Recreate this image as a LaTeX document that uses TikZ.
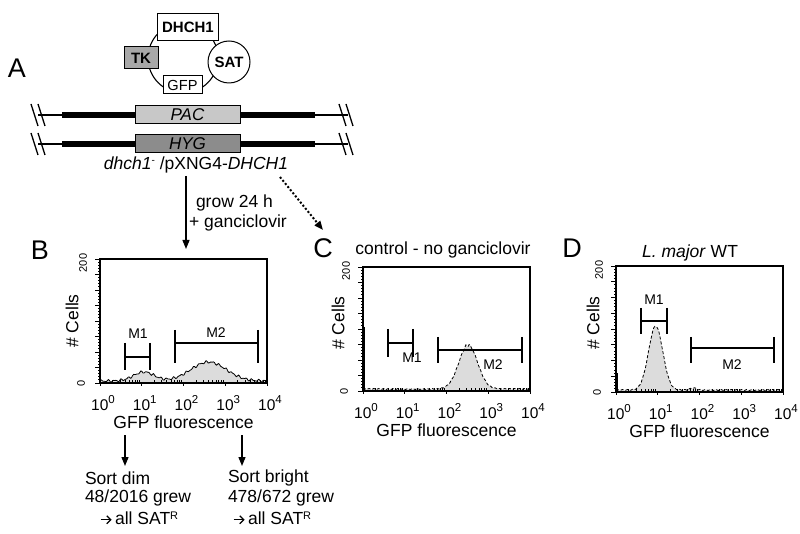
\documentclass[tikz,border=0pt]{standalone}
\usepackage{fontspec}
\setmainfont{Liberation Sans}
\newfontfamily\dvfont{DejaVu Sans}
\usetikzlibrary{arrows.meta}
\newcommand\fs[1]{\fontsize{#1}{#1}\selectfont}
\definecolor{tkgray}{HTML}{A8A8A8}
\definecolor{pacgray}{HTML}{C8C8C8}
\definecolor{hyggray}{HTML}{8C8C8C}
\definecolor{histfill}{HTML}{DCDCDC}
\newcommand\facsframe[4]{%
  \draw[line width=1.1pt] (#1,#2) rectangle (#3,#4);
  \foreach \k in {0,...,40}{%
    \pgfmathsetmacro\tl{mod(\k,5)==0?5:2.5}
    \draw[line width=0.9pt] (#1,{#4-(#4-#2)*\k/40}) -- ++(-\tl,0);}
  \foreach \d in {0,1,2,3}{\foreach \m in {2,...,9}{%
    \draw[line width=0.8pt] ({#1+(#3-#1)/4*(\d+log10(\m))},#4) -- ++(0,-3);}}
  \foreach \d in {0,...,4}{%
    \draw[line width=1pt] ({#1+(#3-#1)/4*\d},#4) -- ++(0,3);
    \node[font=\fs{15.5}] at ({#1+(#3-#1)/4*\d+3},{#4+20}) {10\raisebox{6.5pt}{\fs{11.5}\d}};}
  \node[font=\fs{11},rotate=90] at ({#1-17},{#2+4}) {200};
  \node[font=\fs{11},rotate=90] at ({#1-19},#4) {0};
  \node[font=\fs{17.5}] at ({(#1+#3)/2},{#4+39}) {GFP fluorescence};
}
\newcommand\rarr{\begin{tikzpicture}[baseline=-4.5pt,x=1pt,y=1pt]\draw[line width=1.2pt,-{Straight Barb[length=4pt,width=8pt]}] (0,0) -- (11,0);\end{tikzpicture}\,}
\begin{document}
\begin{tikzpicture}[x=1pt,y=-1pt,
  every node/.style={inner sep=0pt,outer sep=0pt},
  lbl/.style={font=\fs{17.5}},
  panellbl/.style={font=\fs{27}},
  mlbl/.style={font=\fs{14}},
  gene/.style={draw,line width=1pt,font=\fs{15}\bfseries},
  chrom/.style={draw,line width=1pt,font=\fs{17}\itshape,minimum width=105,minimum height=18},
  thinline/.style={line width=1.1pt},
  thickline/.style={line width=6pt},
  brk/.style={line width=1.3pt},
  bracket/.style={line width=1.6pt},
  histline/.style={line width=0.8pt},
  arr/.style={line width=1.3pt,-{Triangle[length=9pt,width=7pt]}},
  darr/.style={line width=2pt,dash pattern=on 2pt off 2pt,-{Triangle[length=9pt,width=7pt]}},
  declare function={
    hb(\u)=2+9*exp(max(-9,-(\u-1.05)*(\u-1.05)/0.1225))+19*exp(max(-9,-(\u-2.6)*(\u-2.6)/0.36))+0.9*sin(2300*\u)+0.6*sin(3700*\u+40);
    hc(\u)=2+0.5*sin(3100*\u)+44*exp(max(-9,-(\u-2.52)*(\u-2.52)/0.1))+1.5*sin(3700*\u)*exp(max(-9,-(\u-2.52)*(\u-2.52)/0.01));
    hd(\u)=2+0.5*sin(2900*\u)+64*exp(max(-9,-(\u-0.95)*(\u-0.95)/0.0576))+2*exp(max(-9,-(\u-1.85)*(\u-1.85)/0.01));
  }]
\useasboundingbox (0,0) rectangle (800,534);

% ---------- Panel A ----------
\node[panellbl] (labA) at (17,68) {A};
\draw[line width=1.1pt] (183,58) circle (35);
\node[gene,minimum width=61,minimum height=27,fill=white] (dhch) at (188,27) {DHCH1};
\node[gene,minimum width=34,minimum height=22,fill=tkgray] (tk) at (141,58) {TK};
\node[gene,circle,minimum size=42,fill=white] (sat) at (229,62) {SAT};
\node[draw,line width=1pt,minimum width=39,minimum height=18,fill=white,font=\fs{14.6}] (gfp) at (182.5,85) {GFP};

% chromosome lines
\foreach \yy/\nm/\col/\txt in {115/pac/pacgray/PAC,144/hyg/hyggray/HYG}{
  \draw[thinline] (38,\yy) -- (348,\yy);
  \draw[thickline] (62,\yy) -- (135,\yy);
  \draw[thickline] (240,\yy) -- (315,\yy);
  \node[chrom,fill=\col] (\nm) at (187.5,\yy) {\txt};
  \draw[brk] (31,{\yy-11}) -- (38,{\yy+11});
  \draw[brk] (38,{\yy-11}) -- (45,{\yy+11});
  \draw[brk] (339,{\yy-11}) -- (346,{\yy+11});
  \draw[brk] (346,{\yy-11}) -- (353,{\yy+11});
}
\node[lbl] (geno) at (196,165) {\textit{dhch1}\raisebox{6pt}{\fs{10}-}\ /pXNG4-\textit{DHCH1}};

\coordinate (a1s) at (186,176);
\coordinate (a1e) at (186,249);
\draw[arr] (a1s) -- (a1e);
\node[lbl,anchor=west] (grow) at (196,203) {grow 24 h};
\node[lbl,anchor=west] (ganc) at (189,223) {+ ganciclovir};
\coordinate (a2s) at (280,177);
\coordinate (a2e) at (323,230);
\draw[darr] (a2s) -- (a2e);

% ---------- Panel B ----------
\node[panellbl] (labB) at (40,250) {B};
\fill[histfill] (100,383) -- plot[domain=0:4,samples=160] ({100+41.75*\x},{383-hb(\x)}) -- (267,383) -- cycle;
\draw[histline] plot[domain=0:4,samples=160] ({100+41.75*\x},{383-hb(\x)});
\draw[line width=2pt] (100,377) -- (100,383);
\facsframe{100}{259}{267}{383}
\node[lbl,rotate=90] (cellsB) at (72,321) {\# Cells};
\draw[bracket] (125,357) -- (150,357);
\draw[bracket] (125,343) -- (125,370);
\draw[bracket] (150,343) -- (150,370);
\node[mlbl] (m1b) at (138,334) {M1};
\draw[bracket] (175,343) -- (258,343);
\draw[bracket] (175,330) -- (175,363);
\draw[bracket] (258,330) -- (258,363);
\node[mlbl] (m2b) at (216,333) {M2};

\coordinate (b1s) at (125,435);
\coordinate (b1e) at (125,466);
\draw[arr] (b1s) -- (b1e);
\coordinate (b2s) at (242,435);
\coordinate (b2e) at (242,466);
\draw[arr] (b2s) -- (b2e);
\node[lbl,anchor=west] (sd1) at (85,478) {Sort dim};
\node[lbl,anchor=west] (sd2) at (85,498) {48/2016 grew};
\node[lbl,anchor=west] (sd3) at (100,518) {\rarr all SAT\raisebox{5pt}{\fs{11}R}};
\node[lbl,anchor=west] (sb1) at (228,478) {Sort bright};
\node[lbl,anchor=west] (sb2) at (228,498) {478/672 grew};
\node[lbl,anchor=west] (sb3) at (233,518) {\rarr all SAT\raisebox{5pt}{\fs{11}R}};

% ---------- Panel C ----------
\node[panellbl] (labC) at (323,248) {C};
\node[lbl] (titC) at (443,250) {control - no ganciclovir};
\fill[histfill] (363,391) -- plot[domain=0:4,samples=160] ({363+41.75*\x},{391-hc(\x)}) -- (530,391) -- cycle;
\draw[histline,densely dashed] plot[domain=0:4,samples=160] ({363+41.75*\x},{391-hc(\x)});
\draw[line width=2.2pt] (364,327) -- (364,391);
\facsframe{363}{267}{530}{391}
\node[lbl,rotate=90] (cellsC) at (338,323) {\# Cells};
\draw[bracket] (388,343) -- (413,343);
\draw[bracket] (388,329) -- (388,357);
\draw[bracket] (413,329) -- (413,357);
\node[mlbl] (m1c) at (412,358) {M1};
\draw[bracket] (438,350) -- (522,350);
\draw[bracket] (438,337) -- (438,363);
\draw[bracket] (522,337) -- (522,363);
\node[mlbl] (m2c) at (493,365) {M2};

% ---------- Panel D ----------
\node[panellbl] (labD) at (572,248) {D};
\node[lbl] (titD) at (690,253) {\textit{L. major} WT};
\fill[histfill] (616,392) -- plot[domain=0:4,samples=160] ({616+41.75*\x},{392-hd(\x)}) -- (783,392) -- cycle;
\draw[histline,densely dashed] plot[domain=0:4,samples=160] ({616+41.75*\x},{392-hd(\x)});
\draw[line width=2.2pt] (617,373) -- (617,392);
\facsframe{616}{266}{783}{392}
\node[lbl,rotate=90] (cellsD) at (593,323) {\# Cells};
\draw[bracket] (641,321) -- (667,321);
\draw[bracket] (641,308) -- (641,334);
\draw[bracket] (667,308) -- (667,334);
\node[mlbl] (m1d) at (654,300) {M1};
\draw[bracket] (691,348) -- (774,348);
\draw[bracket] (691,337) -- (691,363);
\draw[bracket] (774,337) -- (774,363);
\node[mlbl] (m2d) at (732,365) {M2};
\end{tikzpicture}
\end{document}
